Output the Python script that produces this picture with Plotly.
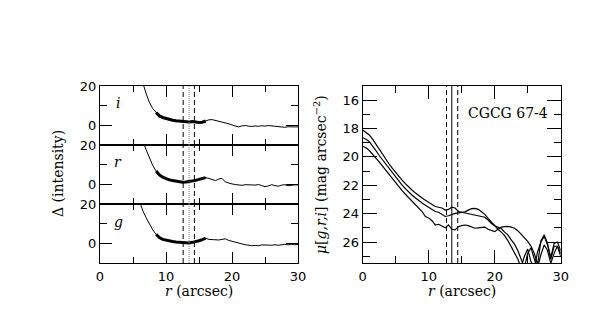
import plotly.graph_objects as go

# ---------------- data ----------------
r_left = [5.5, 6, 6.5, 7, 7.5, 8, 8.5, 9, 9.5, 10, 10.5, 11, 11.5, 12, 12.5, 13, 13.5, 14, 14.5, 15,
          15.5, 16, 16.5, 17, 17.5, 18, 18.5, 19, 19.5, 20, 20.5, 21, 21.5, 22, 22.5, 23, 23.5, 24,
          24.5, 25, 25.5, 26, 26.5, 27, 27.5, 28, 28.5, 29, 29.5, 30]

delta_i = [32, 26, 21.5, 16, 11.5, 8.5, 6.5, 4.8, 4.0, 3.4, 2.9, 2.6, 2.3, 2.1, 1.9, 1.8, 1.7, 2.0, 1.6, 1.4,
           1.6, 2.2, 2.8, 2.9, 2.5, 2.1, 1.9, 1.4, 0.8, 0.2, -0.5, -0.8, -0.3, -0.1, -0.4, -0.6, -0.3, -0.5,
           -0.2, -0.4, -0.1, -0.3, -0.7, -0.9, -0.8, -1.0, -0.7, -0.9, -0.8, -0.8]

delta_r = [33, 27, 22, 17.5, 13, 9.5, 6.8, 4.8, 3.6, 2.8, 2.3, 1.9, 1.6, 1.3, 1.1, 1.2, 1.4, 1.7, 2.0, 2.5,
           3.0, 3.4, 3.0, 2.6, 1.9, 2.7, 3.0, 1.2, 0.6, 0.2, -0.1, -0.4, -0.5, -0.2, -0.1, -0.3, -0.4, -0.1,
           -0.6, -1.2, -0.8, -0.2, -0.6, -1.0, -0.4, -0.2, -0.7, -0.4, -0.3, -0.3]

delta_g = [26, 21, 16.5, 13.0, 9.6, 6.8, 4.6, 2.9, 2.0, 1.5, 1.2, 0.9, 0.7, 0.5, 0.3, 0.2, 0.2, 0.5, 0.8, 1.3,
           1.9, 2.6, 2.0, 1.9, 2.0, 1.7, 2.0, 2.3, 1.5, 1.0, 0.4, -0.1, -0.3, -0.7, -1.0, -1.2, -1.1, -1.2,
           -0.8, -0.7, -0.9, -1.0, -0.7, -1.0, -0.6, -0.5, -0.8, -0.5, -0.7, -0.6]

fit_range = [8.5, 16.0]          # radial range drawn heavy
band_labels = ["i", "r", "g"]

r_right = [0, 0.5, 1, 1.5, 2, 2.5, 3, 3.5, 4, 4.5, 5, 5.5, 6, 6.5, 7, 7.5, 8, 8.5, 9, 9.5, 10, 10.5,
           11, 11.5, 12, 12.5, 13, 13.5, 14, 14.5, 15, 15.5, 16, 16.5, 17, 17.5, 18, 18.5, 19, 19.5,
           20, 20.5, 21, 21.5, 22, 22.5, 23, 23.5, 24, 24.5, 25, 25.5, 26, 26.5, 27, 27.5, 28, 28.5,
           29, 29.5, 30]

mu_1 = [18.10, 18.25, 18.45, 18.75, 19.1, 19.5, 19.85, 20.2, 20.5, 20.8, 21.1, 21.4, 21.65, 21.9, 22.15,
        22.35, 22.55, 22.75, 22.9, 23.05, 23.2, 23.4, 23.5, 23.55, 23.6, 23.75, 23.7, 23.55, 23.6, 23.85,
        23.9, 23.98, 24.0, 24.05, 24.1, 24.15, 24.2, 24.25, 24.45, 24.7, 24.85, 24.95, 25.05, 25.3, 25.5,
        25.85, 26.15, 26.6, 27.2, 27.8, 26.8, 26.4, 27.2, 27.8, 26.9, 26.2, 26.6, 27.5, 26.8, 26.3, 26.8]

mu_2 = [18.65, 18.75, 18.92, 19.2, 19.55, 19.9, 20.2, 20.55, 20.85, 21.15, 21.45, 21.75, 22.0, 22.25, 22.5,
        22.7, 22.9, 23.1, 23.25, 23.4, 23.55, 23.7, 23.85, 23.9, 24.05, 24.2, 24.15, 24.05, 23.98, 23.95,
        23.9, 23.87, 23.75, 23.65, 23.63, 23.7, 23.87, 24.05, 24.33, 24.6, 24.9, 25.1, 25.3, 25.55, 25.9,
        26.3, 26.7, 27.2, 27.8, 27.0, 26.5, 27.4, 27.8, 26.7, 26.0, 25.6, 26.2, 27.1, 26.1, 26.0, 26.6]

mu_3 = [19.25, 19.35, 19.55, 19.8, 20.1, 20.35, 20.65, 20.95, 21.25, 21.55, 21.85, 22.15, 22.4, 22.65, 22.9,
        23.15, 23.4, 23.65, 23.85, 24.2, 24.3, 24.5, 24.8, 24.75, 24.85, 25.0, 24.8, 25.1, 25.15, 24.92,
        24.85, 24.8, 24.85, 24.95, 25.03, 25.0, 24.95, 24.95, 25.1, 25.2, 25.27, 25.1, 24.95, 24.92, 24.9,
        24.95, 25.03, 25.2, 25.45, 25.7, 25.95, 26.3, 26.8, 27.6, 25.9, 25.5, 26.1, 27.2, 26.3, 26.3, 27.0]

left_markers = [12.6, 13.5, 14.3]     # dashed, dotted, dashed
right_markers = [12.7, 13.5, 14.4]    # dashed, solid, dashed
galaxy_name = "CGCG 67-4"

# ---------------- layout helpers ----------------
W, H = 598, 318
def fx(px): return px / W
def fy(py): return 1 - py / H

LX = [fx(100), fx(298)]
RX = [fx(362.7), fx(560.7)]
sub_y = [[fy(145), fy(86)], [fy(204), fy(145)], [fy(263), fy(204)]]
RY = [fy(263), fy(86)]

TICKFONT = dict(family="DejaVu Sans", size=13, color="black")
TFONT = dict(family="DejaVu Serif", size=14, color="black")

fig = go.Figure()

deltas = [delta_i, delta_r, delta_g]
for k, d in enumerate(deltas):
    xa = "x" if k == 0 else f"x{k+1}"
    ya = "y" if k == 0 else f"y{k+1}"
    fig.add_trace(go.Scatter(x=r_left, y=d, mode="lines", xaxis=xa, yaxis=ya,
                             line=dict(color="black", width=1), showlegend=False, hoverinfo="skip"))
    rr = [r for r in r_left if fit_range[0] <= r <= fit_range[1]]
    dd = [v for r, v in zip(r_left, d) if fit_range[0] <= r <= fit_range[1]]
    fig.add_trace(go.Scatter(x=rr, y=dd, mode="lines", xaxis=xa, yaxis=ya,
                             line=dict(color="black", width=3), showlegend=False, hoverinfo="skip"))

for mu in [mu_1, mu_2, mu_3]:
    fig.add_trace(go.Scatter(x=r_right, y=mu, mode="lines", xaxis="x4", yaxis="y4",
                             line=dict(color="black", width=1.2), showlegend=False, hoverinfo="skip"))

axis_common = dict(showline=True, linecolor="black", linewidth=1.2, mirror="ticks",
                   ticks="inside", tickcolor="black", tickwidth=1.1, showgrid=False,
                   zeroline=False, tickfont=TICKFONT, automargin=False)

for k in range(3):
    xname = "xaxis" if k == 0 else f"xaxis{k+1}"
    yname = "yaxis" if k == 0 else f"yaxis{k+1}"
    anchor_y = "y" if k == 0 else f"y{k+1}"
    anchor_x = "x" if k == 0 else f"x{k+1}"
    fig.layout[xname] = dict(axis_common, domain=LX, range=[0, 30], anchor=anchor_y,
                             tick0=0, dtick=10, ticklen=11, linewidth=1,
                             minor=dict(dtick=5, ticklen=6, ticks="inside", tickcolor="black", tickwidth=1.1),
                             showticklabels=(k == 2), ticklabelstandoff=1)
    fig.layout[yname] = dict(axis_common, domain=sub_y[k], range=[-10, 20], anchor=anchor_x,
                             tickvals=[0, 20], ticklen=12,
                             minor=dict(tickvals=[10], ticklen=7, ticks="inside", tickcolor="black", tickwidth=1.1))

fig.layout["xaxis4"] = dict(axis_common, domain=RX, range=[0, 30], anchor="y4",
                            tick0=0, dtick=10, ticklen=13,
                            minor=dict(dtick=5, ticklen=7, ticks="inside", tickcolor="black", tickwidth=1.1),
                            ticklabelstandoff=1)
fig.layout["yaxis4"] = dict(axis_common, domain=RY, range=[27.48, 15.0], anchor="x4",
                            tick0=16, dtick=2, ticklen=14,
                            minor=dict(dtick=1, ticklen=7, ticks="inside", tickcolor="black", tickwidth=1.1))

shapes = []
left_styles = [dict(color="black", width=1, dash="5px,3px"),
               dict(color="#888888", width=1, dash="1px,1px"),
               dict(color="black", width=1, dash="5px,3px")]
for k in range(3):
    xr = "x" if k == 0 else f"x{k+1}"
    yr = "y domain" if k == 0 else f"y{k+1} domain"
    for xv, st in zip(left_markers, left_styles):
        shapes.append(dict(type="line", xref=xr, yref=yr, x0=xv, x1=xv, y0=0, y1=1, line=st))
right_styles = [dict(color="black", width=1, dash="5px,3px"),
                dict(color="black", width=1),
                dict(color="black", width=1, dash="5px,3px")]
for xv, st in zip(right_markers, right_styles):
    shapes.append(dict(type="line", xref="x4", yref="y4 domain", x0=xv, x1=xv, y0=0, y1=1, line=st))

annotations = []
label_py = [103, 162, 222]
for lab, py in zip(band_labels, label_py):
    annotations.append(dict(text=f"<i>{lab}</i>", x=fx(118), y=fy(py), xref="paper", yref="paper",
                            showarrow=False, font=TFONT, xanchor="center", yanchor="middle"))
annotations.append(dict(text=galaxy_name, x=fx(508), y=fy(113), xref="paper", yref="paper",
                        showarrow=False, font=TFONT, xanchor="center", yanchor="middle"))
annotations.append(dict(text="Δ (intensity)", x=fx(58), y=fy(174), xref="paper", yref="paper",
                        showarrow=False, font=TFONT, textangle=-90, xanchor="center", yanchor="middle"))
annotations.append(dict(text="<i>μ</i>[<i>g,r,i</i>] (mag arcsec<sup>−2</sup>)", x=fx(320), y=fy(175),
                        xref="paper", yref="paper", showarrow=False, font=TFONT, textangle=-90,
                        xanchor="center", yanchor="middle"))
annotations.append(dict(text="<i>r</i> (arcsec)", x=fx(199), y=fy(291), xref="paper", yref="paper",
                        showarrow=False, font=TFONT, xanchor="center", yanchor="middle"))
annotations.append(dict(text="<i>r</i> (arcsec)", x=fx(462), y=fy(291), xref="paper", yref="paper",
                        showarrow=False, font=TFONT, xanchor="center", yanchor="middle"))

fig.update_layout(width=W, height=H, margin=dict(l=0, r=0, t=0, b=0),
                  paper_bgcolor="white", plot_bgcolor="white",
                  shapes=shapes, annotations=annotations, showlegend=False)

fig.write_html("out.html", config={"displayModeBar": False},
               post_script="document.body.style.margin='0px';document.body.style.overflow='hidden';")
